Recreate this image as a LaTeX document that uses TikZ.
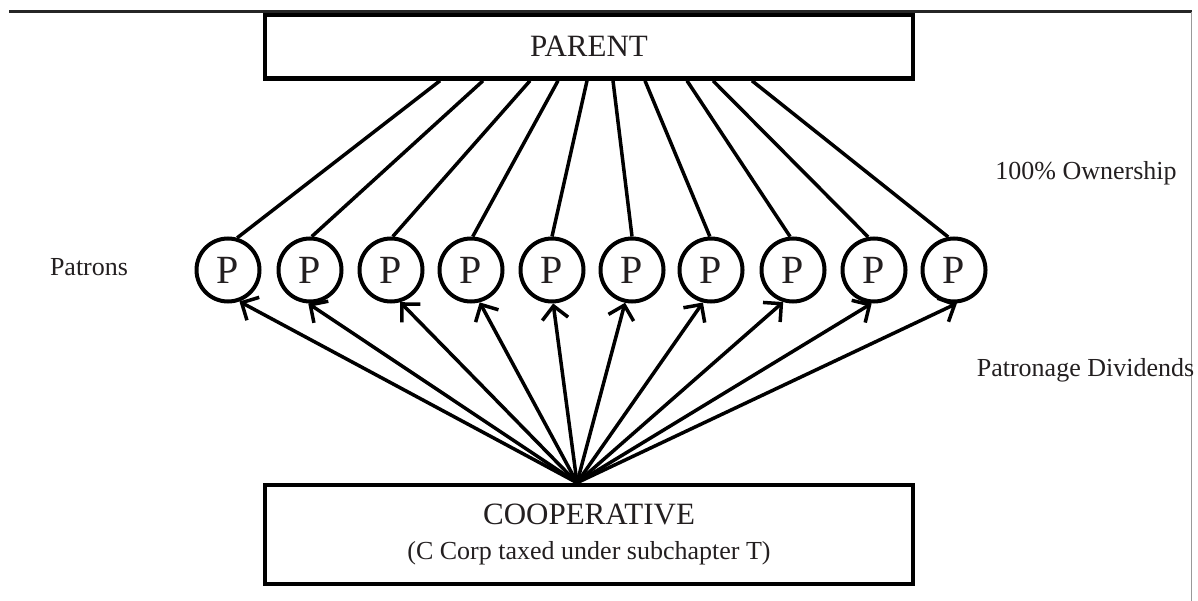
\documentclass[tikz,border=0pt]{standalone}
\usepackage{fontspec}
\setmainfont{Liberation Serif}
\usetikzlibrary{arrows.meta,calc}
\definecolor{ink}{HTML}{231F20}
\begin{document}
\begin{tikzpicture}[x=1pt,y=-1pt,
  entity/.style={draw=black,line width=4.5pt,minimum width=648pt,inner sep=0pt,
    text=ink,font=\fontsize{31}{36}\selectfont,align=center},
  patron/.style={circle,draw=black,line width=4pt,minimum size=63pt,inner sep=0pt,
    text=ink,font=\fontsize{40}{40}\selectfont},
  label/.style={text=ink,font=\fontsize{26}{30}\selectfont,inner sep=0pt},
  owns/.style={line width=3.5pt},
  pays/.style={line width=3.5pt,-{Straight Barb[length=13pt,width=26pt,line width=3.5pt]}}]
\useasboundingbox (0,0) rectangle (1198,601);

% page rules
\coordinate (ruleL) at (9,11.5);
\coordinate (ruleR) at (1192,11.5);
\coordinate (edgeT) at (1191.5,12);
\coordinate (edgeB) at (1191.5,601);
\draw[line width=2.5pt,black!85] (ruleL) -- (ruleR);
\draw[line width=1pt,black!40] (edgeT) -- (edgeB);

% boxes
\node[entity,minimum height=63.5pt] (parent) at (589,46.75) {PARENT};
\node[entity,minimum height=99pt] (coop) at (589,534.5)
  {COOPERATIVE\\[-1pt]{\fontsize{26}{30}\selectfont(C Corp taxed under subchapter T)}};

% patrons
\foreach \i/\x in {1/228,2/310,3/391,4/471,5/552,6/632,7/711,8/793,9/874,10/954}
  \node[patron] (p\i) at (\x,270) {P};

% ownership lines from the parent
\foreach \i/\dx/\a in {1/-149/74,2/-106/87,3/-59/87,4/-31/87,5/-2/90,6/24/90,7/56/92,8/98/95,9/124/100,10/163/100}
  \draw[owns] ($(parent.south)+(\dx,0)$) -- (p\i.\a);

% dividend arrows from the cooperative
\coordinate (hub) at ($(coop.north)+(-12,0)$);
\foreach \i/\a in {1/-70,2/-93,3/-74,4/-75,5/-88,6/-102,7/-104,8/-107,9/-94,10/-85}
  \draw[pays] (hub) -- (p\i.\a);

% side labels
\node[label] (patrons) at (89,267) {Patrons};
\node[label] (own) at (1086,173) {100\% Ownership};
\node[label] (div) at (1085.5,370) {Patronage Dividends};
\end{tikzpicture}
\end{document}
